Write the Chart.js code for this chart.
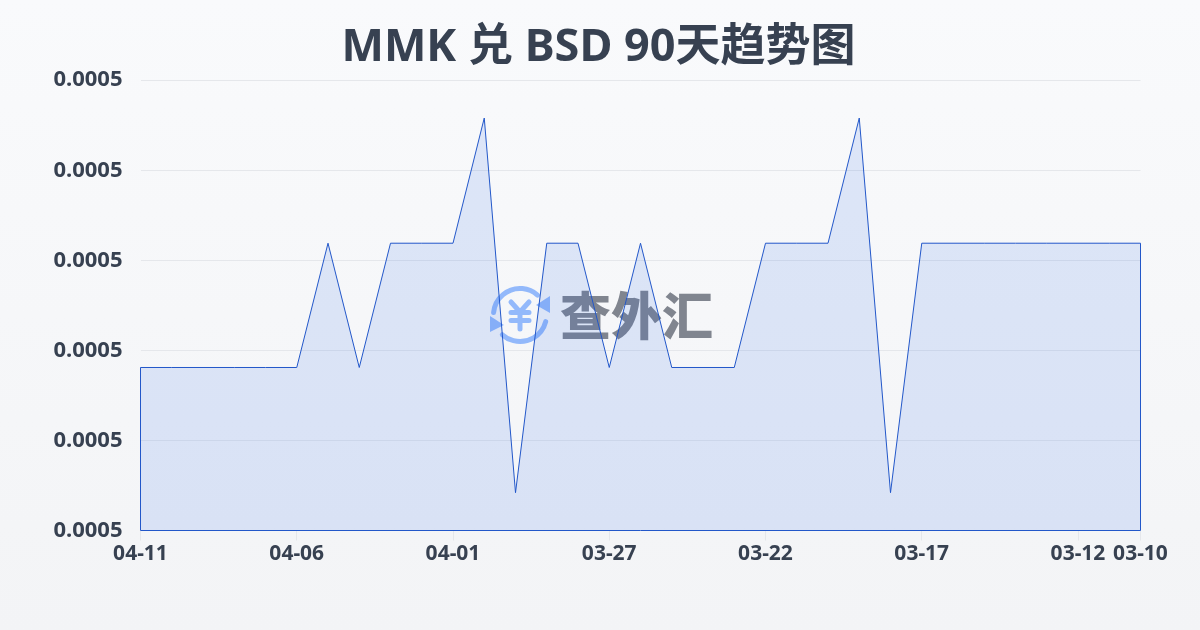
<!DOCTYPE html>
<html><head><meta charset="utf-8">
<script src="https://cdn.jsdelivr.net/npm/chart.js@4/dist/chart.umd.min.js"></script>
<style>
html,body{margin:0;padding:0;width:1200px;height:630px;overflow:hidden;background:linear-gradient(180deg,#f9fafc 0%,#f3f4f6 100%)}
#w{position:absolute;left:0;top:0;width:1200px;height:630px}
</style></head><body><div id="w"><canvas id="c" width="1200" height="630"></canvas></div>
<script>
const dates=["04-11","04-10","04-09","04-08","04-07","04-06","04-05","04-04","04-03","04-02","04-01","03-31","03-30","03-29","03-28","03-27","03-26","03-25","03-24","03-23","03-22","03-21","03-20","03-19","03-18","03-17","03-16","03-15","03-14","03-13","03-12","03-11","03-10"];
const shownLabels=["04-11","04-06","04-01","03-27","03-22","03-17","03-12","03-10"];
const rates=[0.00050181,0.00050181,0.00050181,0.00050181,0.00050181,0.00050181,0.00050319,0.00050181,0.00050319,0.00050319,0.00050319,0.00050458,0.00050042,0.00050319,0.00050319,0.00050181,0.00050319,0.00050181,0.00050181,0.00050181,0.00050319,0.00050319,0.00050319,0.00050458,0.00050042,0.00050319,0.00050319,0.00050319,0.00050319,0.00050319,0.00050319,0.00050319,0.00050319];
const axisMin=0.0005, axisMax=0.000505, axisStep=0.000001;
const FONT='"Noto Sans","Noto Sans CJK SC",sans-serif';
const ink='#374151', lineColor='#2257c9';
const watermark={id:'watermark',beforeDraw(ch){ch.scales.y.left=0;ch.titleBlock.left-=2;ch.titleBlock.right-=2;},beforeDatasetsDraw(ch){
  const g=ch.ctx;g.save();
  const cx=520,cy=315;
  g.strokeStyle='#93b9fb';g.fillStyle='#93b9fb';g.lineWidth=5;g.lineCap='round';g.lineJoin='round';
  g.beginPath();g.arc(cx,cy,26.5,-3.05,-0.85);g.stroke();
  g.beginPath();g.arc(cx,cy,26.5,0.25,2.3);g.stroke();
  g.beginPath();g.moveTo(550,296);g.lineTo(550,313);g.lineTo(536,305);g.closePath();g.fill();
  g.beginPath();g.moveTo(490,316);g.lineTo(490,332);g.lineTo(504,325);g.closePath();g.fill();
  g.lineWidth=5;
  g.beginPath();g.moveTo(511,302);g.lineTo(520,312);g.lineTo(529,302);
  g.moveTo(520,312);g.lineTo(520,329);
  g.moveTo(511,312.5);g.lineTo(529,312.5);g.moveTo(511,320.5);g.lineTo(529,320.5);g.stroke();
  g.fillStyle='#80858f';g.font='900 51px "Noto Sans CJK SC",sans-serif';g.textAlign='left';g.textBaseline='middle';
  g.fillText('查外汇',560,316);
  g.restore();
}};
const areaEdge={id:'areaEdge',afterDatasetsDraw(ch){
  const g=ch.ctx,x=ch.scales.x,y=ch.scales.y,n=rates.length-1;
  g.save();g.strokeStyle=lineColor;g.lineWidth=1;
  g.beginPath();
  g.moveTo(x.getPixelForValue(0),y.getPixelForValue(rates[0]));
  g.lineTo(x.getPixelForValue(0),y.getPixelForValue(axisMin));
  g.lineTo(x.getPixelForValue(n),y.getPixelForValue(axisMin));
  g.lineTo(x.getPixelForValue(n),y.getPixelForValue(rates[n]));
  g.stroke();g.restore();
}};
new Chart(document.getElementById('c'),{
  type:'line',
  data:{labels:dates,datasets:[{data:rates,borderColor:lineColor,borderWidth:1,backgroundColor:'rgba(37,99,235,0.13)',fill:true,pointRadius:0,tension:0}]},
  plugins:[watermark,areaEdge],
  options:{
    responsive:false,animation:false,
    layout:{padding:{left:60.5,right:59.5,top:0,bottom:0}},
    plugins:{legend:{display:false},tooltip:{enabled:false},
      title:{display:true,text:'MMK 兑 BSD 90天趋势图',color:ink,font:{family:FONT,size:45,weight:'700'},padding:{top:21,bottom:5.2}}},
    scales:{
      x:{grid:{display:true,drawOnChartArea:false,drawTicks:true,tickLength:10,color:'#e5e7eb'},border:{display:false},
        afterBuildTicks(s){s.ticks=s.ticks.filter(t=>shownLabels.includes(dates[t.value]));},
        ticks:{autoSkip:false,maxRotation:0,minRotation:0,padding:1,color:ink,font:{family:FONT,size:21,weight:'700'},
          callback(v){return dates[v];}},
        afterFit(s){s.height=99.5;}},
      y:{min:axisMin,max:axisMax,afterBuildTicks(s){s.ticks=[0,1,2,3,4,5].map(i=>({value:axisMin+i*axisStep}));},
        grid:{color:'#e5e7eb',drawTicks:false},border:{display:false},
        ticks:{padding:18,color:ink,font:{family:FONT,size:22,weight:'700'},callback:v=>v.toFixed(4)},
        afterFit(s){s.width=80;}}
    }
  }
});
</script></body></html>
